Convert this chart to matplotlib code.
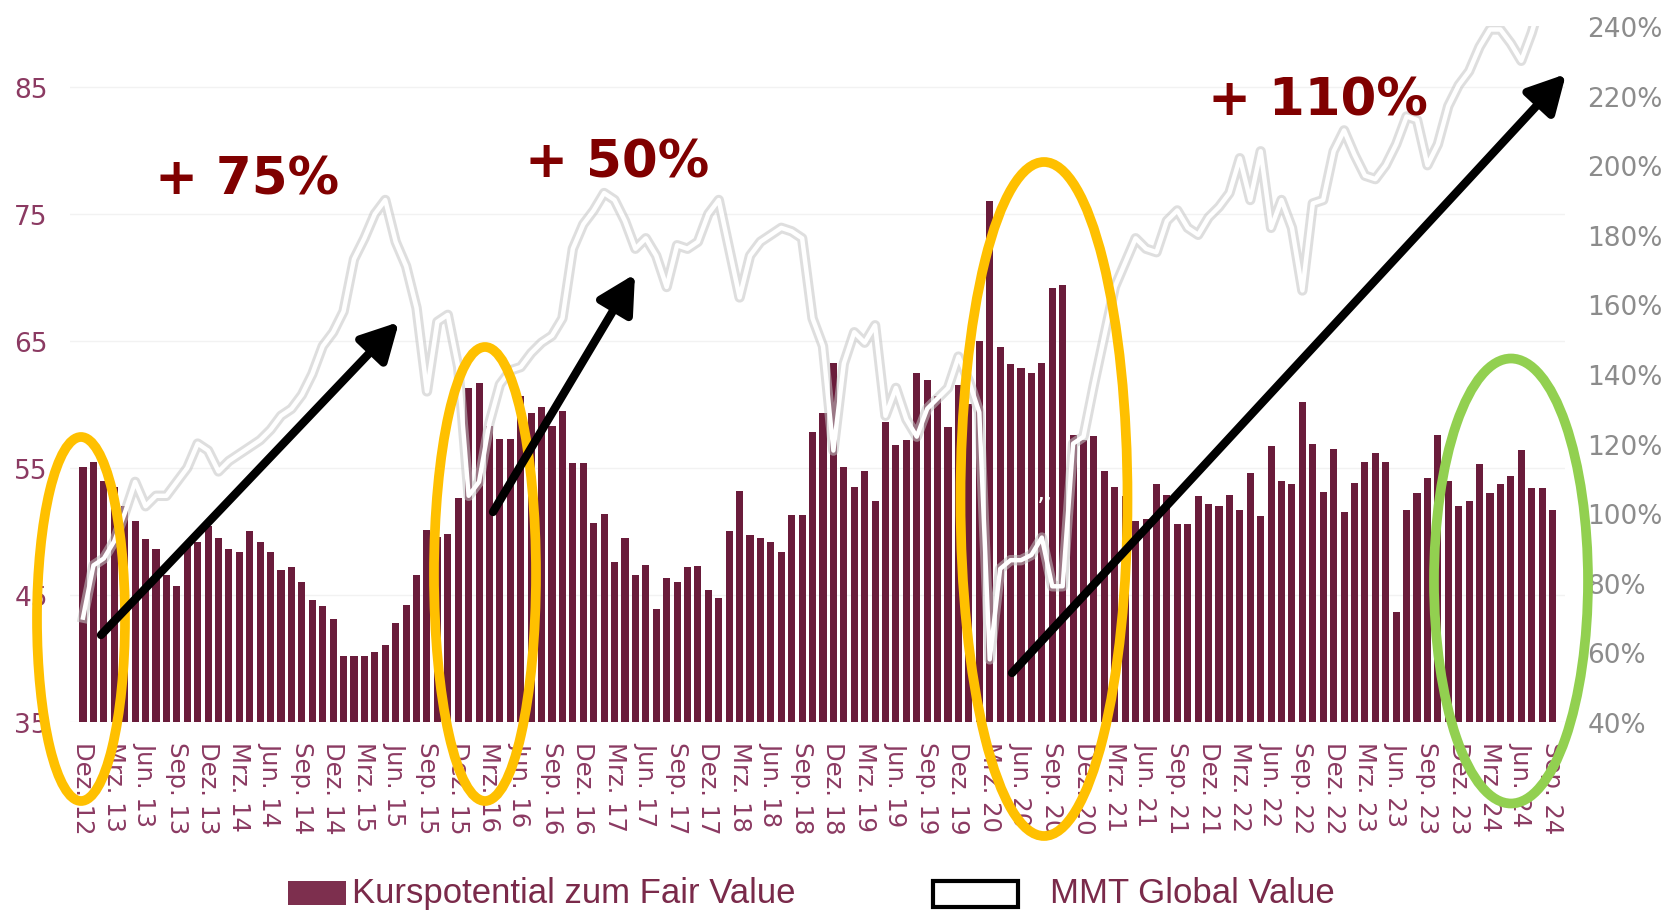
import matplotlib.pyplot as plt
from matplotlib.patches import Ellipse, Rectangle

# Monatswerte Dez. 2012 bis Sep. 2024
kurspotential = [
    55.1, 55.5, 54.0, 53.5, 52.0, 50.8, 49.4, 48.6, 46.6, 45.7,
    49.2, 49.2, 50.4, 49.5, 48.6, 48.4, 50.0, 49.2, 48.4, 47.0,
    47.2, 46.0, 44.6, 44.1, 43.1, 40.2, 40.2, 40.2, 40.5, 41.1,
    42.8, 44.2, 46.6, 50.1, 49.6, 49.8, 52.6, 61.3, 61.7, 58.3,
    57.3, 57.3, 60.7, 59.3, 59.8, 58.3, 59.5, 55.4, 55.4, 50.7,
    51.4, 47.6, 49.5, 46.6, 47.4, 43.9, 46.3, 46.0, 47.2, 47.3,
    45.4, 44.8, 50.0, 53.2, 49.7, 49.5, 49.2, 48.4, 51.3, 51.3,
    57.8, 59.3, 63.3, 55.1, 53.5, 54.8, 52.4, 58.6, 56.8, 57.2,
    62.5, 61.9, 60.7, 58.2, 61.5, 60.0, 65.0, 76.0, 64.5, 63.2,
    62.9, 62.5, 63.3, 69.2, 69.4, 57.6, 57.2, 57.5, 54.8, 53.5,
    52.8, 50.8, 51.0, 53.7, 52.9, 50.6, 50.6, 52.8, 52.2, 52.0,
    52.9, 51.7, 54.6, 51.2, 56.7, 54.0, 53.7, 60.2, 56.9, 53.1,
    56.5, 51.5, 53.8, 55.5, 56.2, 55.5, 43.7, 51.7, 53.0, 54.2,
    57.6, 54.0, 52.0, 52.4, 55.3, 53.0, 53.7, 54.4, 56.4, 53.4,
    53.4, 51.7,
]

mmt_global_value = [
    70, 85, 87, 92, 100, 109, 102, 105, 105, 109,
    113, 120, 118, 112, 115, 117, 119, 121, 124, 128,
    130, 134, 140, 148, 152, 158, 173, 179, 186, 190,
    178, 171, 159, 135, 155, 157, 142, 105, 109, 126,
    137, 141, 142, 146, 149, 151, 156, 176, 183, 187,
    192, 190, 184, 176, 179, 174, 165, 177, 176, 178,
    186, 190, 176, 162, 174, 178, 180, 182, 181, 179,
    156, 148, 118, 143, 152, 149, 154, 128, 136, 127,
    122, 130, 133, 136, 145, 138, 129, 58, 84, 86.5,
    86.5, 88, 93, 79, 79, 120, 122, 137, 151, 165,
    172, 179, 176, 175, 184, 187, 182, 180, 185, 188,
    192, 202, 190, 204, 182, 190, 182, 164, 189, 190,
    204, 210, 203, 197, 196, 200, 206, 214, 213, 200,
    206, 217, 223, 227, 234, 239, 239, 235, 230, 238,
    248, 252,
]

tick_labels = ['Dez. 12'] + [f'{m} {y}' for y in range(13, 25)
                             for m in ('Mrz.', 'Jun.', 'Sep.', 'Dez.')][:-1]
left_ticks = [35, 45, 55, 65, 75, 85]
right_ticks = [40, 60, 80, 100, 120, 140, 160, 180, 200, 220, 240]

bar_color = '#6a1c3b'
label_color = '#8b3a62'

W, H = 1671, 912
fig = plt.figure(figsize=(W / 100, H / 100), dpi=100)
ax = fig.add_axes([70 / W, 1 - 723 / H, (1565 - 70) / W, (723 - 27) / H])

x = list(range(len(kurspotential)))
ax.bar(x, [v - 35 for v in kurspotential], bottom=35, width=0.68,
       color=bar_color, zorder=2)
ax.set_xlim(-1.25, 142.2)
ax.set_ylim(35, 89.8)
ax.set_yticks(left_ticks)
ax.yaxis.grid(True, color='#f2f2f2', lw=1)
ax.set_axisbelow(True)
ax.set_xticks(range(0, len(x), 3))
ax.set_xticklabels(tick_labels, rotation=270, fontsize=17.5, color=label_color)
ax.tick_params(axis='x', length=0, pad=14)
ax.tick_params(axis='y', length=0, pad=16, labelsize=19, labelcolor=label_color)
for s in ax.spines.values():
    s.set_visible(False)

ax2 = ax.twinx()
ax2.plot(x, mmt_global_value, color='#c4c4c4', lw=7.5, alpha=0.55,
         solid_joinstyle='round')
ax2.plot(x, mmt_global_value, color='white', lw=3.2, solid_joinstyle='round')
ax2.set_ylim(40, 240)
ax2.set_yticks(right_ticks)
ax2.set_yticklabels([f'{t}%' for t in right_ticks])
ax2.tick_params(axis='y', length=0, pad=16, labelsize=19, labelcolor='#8c8c8c')
for s in ax2.spines.values():
    s.set_visible(False)

# Overlay in Pixelkoordinaten fuer Markierungen und Legende
ov = fig.add_axes([0, 0, 1, 1], zorder=5)
ov.set_xlim(0, W)
ov.set_ylim(H, 0)
ov.axis('off')
ov.patch.set_alpha(0)

for cx, cy, w, h, c in [(81, 620, 88, 364, '#FFC000'),
                        (485, 575, 102, 454, '#FFC000'),
                        (1044, 500, 167, 674, '#FFC000'),
                        (1511, 582, 154, 445, '#92D050')]:
    ov.add_patch(Ellipse((cx, cy), w, h, fill=False, edgecolor=c, lw=7))

arrow_style = '-|>,head_length=0.75,head_width=0.4'
for tail, head in [((101, 636), (399, 323)),
                   ((493, 513), (635, 275)),
                   ((1012, 674), (1566, 75))]:
    ov.annotate('', xy=head, xytext=tail,
                arrowprops=dict(arrowstyle=arrow_style, lw=6, color='black',
                                mutation_scale=30, shrinkA=0, shrinkB=0))

for tx, ty, txt in [(155, 195, '+ 75%'), (525, 177, '+ 50%'),
                    (1208, 115, '+ 110%')]:
    ov.text(tx, ty, txt, fontsize=37, fontweight='bold', color='#800000',
            ha='left', va='baseline')

ov.text(1045, 515, '\u2019\u2019', fontsize=18, color='white', ha='center')

# Legende
ov.add_patch(Rectangle((288, 882), 58, 24, facecolor='#7d2f4e', edgecolor='none'))
ov.text(352, 894, 'Kurspotential zum Fair Value', fontsize=25,
        family=['Liberation Sans', 'DejaVu Sans'], color='#7a2a4a',
        ha='left', va='center')
ov.add_patch(Rectangle((933, 882), 85, 26, facecolor='white',
                       edgecolor='black', lw=3))
ov.text(1050, 894, 'MMT Global Value', fontsize=25,
        family=['Liberation Sans', 'DejaVu Sans'], color='#7a2a4a',
        ha='left', va='center')

fig.savefig('out.png', dpi=100)
